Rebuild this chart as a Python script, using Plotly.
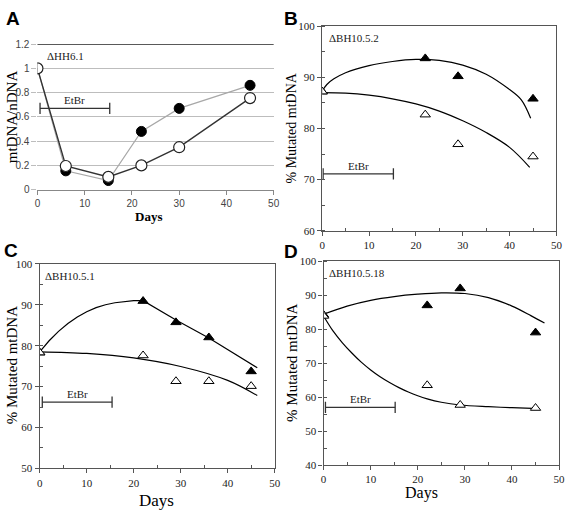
import plotly.graph_objects as go

W, H = 571, 518

# ---------------- data ----------------
# Panel A (mtDNA/nDNA)
a_days = [0, 6, 15, 22, 30, 45]
a_filled = [1.0, 0.155, 0.075, 0.48, 0.67, 0.86]
a_open = [1.0, 0.195, 0.105, 0.2, 0.35, 0.755]
a_yticks = [0, 0.2, 0.4, 0.6, 0.8, 1, 1.2]
a_yticklabels = ["0", "0.2", "0.4", "0.6", "0.8", "1", "1.2"]

# Panel B (% mutated)
b_days = [0, 22, 29, 45]
b_filled = [87.2, 93.7, 90.2, 85.8]
b_open = [87.2, 82.7, 76.9, 74.5]
b_fit_x = [0, 1, 2.5, 5, 10, 15, 20, 25, 30, 35, 40, 42.5, 44.5]
b_fit_up = [87.3, 88.6, 89.7, 90.9, 92.3, 93.1, 93.5, 93.3, 92.4, 90.6, 87.6, 85.6, 82.0]
b_fit_lo_x = [0, 5, 10, 15, 20, 25, 30, 35, 40, 44.3]
b_fit_lo = [87.0, 86.9, 86.5, 85.8, 84.8, 83.4, 81.5, 79.2, 76.3, 72.4]

# Panel C
c_days = [0, 22, 29, 36, 45]
c_filled = [78.3, 90.9, 85.7, 82.0, 73.7]
c_open = [78.3, 77.6, 71.3, 71.3, 70.1]
c_fit_up_x = [0, 2, 4, 6, 8, 10, 12, 14, 16, 18, 20, 22, 29, 36, 46.3]
c_fit_up = [78.5, 81.2, 83.5, 85.4, 87.0, 88.3, 89.3, 90.0, 90.5, 90.8, 91.0, 91.0, 86.3, 81.9, 74.6]
c_fit_lo_x = [0, 10, 20, 30, 40, 46.3]
c_fit_lo = [78.5, 78.1, 77.0, 74.9, 71.5, 67.8]

# Panel D
d_days = [0, 22, 29, 45]
d_filled = [84.2, 87.0, 92.0, 79.0]
d_open = [83.9, 63.5, 57.7, 56.8]
d_fit_up_x = [0, 5, 10, 15, 20, 25, 30, 35, 40, 44, 46.9]
d_fit_up = [84.4, 86.8, 88.5, 89.6, 90.3, 90.7, 90.5, 89.3, 86.8, 84.0, 81.8]
d_fit_lo_x = [0, 2, 4, 6, 8, 10, 12, 14, 16, 18, 20, 22, 25, 29, 35, 40, 45.8]
d_fit_lo = [83.9, 79.5, 76.0, 73.0, 70.3, 68.0, 66.0, 64.3, 62.8, 61.5, 60.4, 59.5, 58.5, 57.7, 57.2, 56.9, 56.6]

# EtBr treatment bars (start, end day) and height per panel
etbr_days = {"A": [0.55, 15.3], "B": [0.2, 15.2], "C": [0.55, 15.4], "D": [0.4, 15.2]}
etbr_y = {"A": 0.67, "B": 71.1, "C": 66.2, "D": 57.0}

cell_lines = {"A": "ΔHH6.1", "B": "ΔBH10.5.2", "C": "ΔBH10.5.1", "D": "ΔBH10.5.18"}
x_ticks = [0, 10, 20, 30, 40, 50]

# ---------------- layout helpers ----------------
def dom_x(p0, p1):
    return [p0 / W, p1 / W]

def dom_y(ptop, pbot):
    return [1 - pbot / H, 1 - ptop / H]

SERIF = "Liberation Serif"
SANS = "Liberation Sans"

fig = go.Figure()

# ---------------- Panel A ----------------
fig.add_trace(go.Scatter(x=a_days, y=a_filled, mode="lines+markers", xaxis="x", yaxis="y",
                         line=dict(color="#a8a8a8", width=1.2),
                         marker=dict(symbol="circle", size=10, color="black", line=dict(color="black", width=1))))
fig.add_trace(go.Scatter(x=a_days, y=a_open, mode="lines+markers", xaxis="x", yaxis="y",
                         line=dict(color="#333333", width=1.4),
                         marker=dict(symbol="circle", size=11, color="white", line=dict(color="#222222", width=1.2))))

# ---------------- Panels B, C, D ----------------
def add_pct_panel(xa, ya, days, filled, open_, up_x, up_y, lo_x, lo_y, spline=True):
    shape = "spline" if spline else "linear"
    fig.add_trace(go.Scatter(x=up_x, y=up_y, mode="lines", xaxis=xa, yaxis=ya,
                             line=dict(color="black", width=1.2, shape=shape)))
    fig.add_trace(go.Scatter(x=lo_x, y=lo_y, mode="lines", xaxis=xa, yaxis=ya,
                             line=dict(color="black", width=1.2, shape="spline")))
    fig.add_trace(go.Scatter(x=days, y=filled, mode="markers", xaxis=xa, yaxis=ya,
                             marker=dict(symbol="triangle-up", size=9, color="black",
                                         line=dict(color="black", width=1))))
    fig.add_trace(go.Scatter(x=days, y=open_, mode="markers", xaxis=xa, yaxis=ya,
                             marker=dict(symbol="triangle-up", size=9, color="white",
                                         line=dict(color="black", width=1))))

add_pct_panel("x2", "y2", b_days, b_filled, b_open, b_fit_x, b_fit_up, b_fit_lo_x, b_fit_lo)
add_pct_panel("x3", "y3", c_days, c_filled, c_open, c_fit_up_x, c_fit_up, c_fit_lo_x, c_fit_lo, spline=False)
add_pct_panel("x4", "y4", d_days, d_filled, d_open, d_fit_up_x, d_fit_up, d_fit_lo_x, d_fit_lo)

# EtBr bars
ax_for = {"A": ("x", "y"), "B": ("x2", "y2"), "C": ("x3", "y3"), "D": ("x4", "y4")}
for k, (xa, ya) in ax_for.items():
    xs = etbr_days[k]
    fig.add_trace(go.Scatter(x=xs, y=[etbr_y[k]] * 2, mode="lines+markers", xaxis=xa, yaxis=ya,
                             line=dict(color="#333333", width=1.3),
                             marker=dict(symbol="line-ns", size=8, line=dict(color="#333333", width=1.3))))

annotations = []
for k, (xa, ya) in ax_for.items():
    xs = etbr_days[k]
    annotations.append(dict(x=(xs[0] + xs[1]) / 2, y=etbr_y[k], xref=xa, yref=ya, text="EtBr",
                            showarrow=False, yanchor="bottom", yshift=0,
                            font=dict(family=SERIF, size=11, color="#222")))
label_pos = {"A": (1.5, 1.1), "B": (1.0, 97.6), "C": (0.8, 97.0), "D": (0.8, 96.5)}
for k, (xa, ya) in ax_for.items():
    lx, ly = label_pos[k]
    annotations.append(dict(x=lx, y=ly, xref=xa, yref=ya, text=cell_lines[k], showarrow=False,
                            xanchor="left", yanchor="middle",
                            font=dict(family=SERIF, size=11, color="#222")))

# panel letters
for letter, (px_, py_) in {"A": (2, 13), "B": (284, 13), "C": (0, 250), "D": (284, 251)}.items():
    annotations.append(dict(x=px_ / W, y=1 - py_ / H, xref="paper", yref="paper", text=f"<b>{letter}</b>",
                            showarrow=False, xanchor="left", yanchor="middle", borderpad=0,
                            font=dict(family=SANS, size=19, color="black")))

# axis titles
def title(xp, yp, text, size, angle=0, bold=False):
    t = f"<b>{text}</b>" if bold else text
    annotations.append(dict(x=xp / W, y=1 - yp / H, xref="paper", yref="paper", text=t, showarrow=False,
                            textangle=angle, xanchor="center", yanchor="middle", borderpad=0,
                            font=dict(family=SERIF, size=size, color="black")))

title(10, 113, "mtDNA/nDNA", 15, angle=-90)
title(148, 216, "Days", 13, bold=True)
title(293, 125, "% Mutated mtDNA", 14, angle=-90)
title(10, 368, "% Mutated mtDNA", 15, angle=-90)
title(156, 506, "Days", 17)
title(293, 365, "% Mutated mtDNA", 15, angle=-90)
title(425, 499, "Days", 16)

fig.update_layout(annotations=annotations)

# Top dark line on panel A
fig.add_shape(type="line", xref="x domain", yref="y", x0=0, x1=1, y0=1.2, y1=1.2,
              line=dict(color="#222222", width=1.5))

# ---------------- axes ----------------
tick_font_sans = dict(family=SANS, size=10, color="#444")
tick_font_serif = dict(family=SERIF, size=11, color="#222")

fig.update_layout(
    width=W, height=H, margin=dict(l=0, r=0, t=0, b=0),
    paper_bgcolor="white", plot_bgcolor="white", showlegend=False,
    xaxis=dict(domain=dom_x(35, 275), anchor="y", range=[0, 50], tickvals=x_ticks,
               showgrid=False, zeroline=False, showline=True, linecolor="#888", linewidth=1,
               ticks="outside", ticklen=4, tickcolor="#888", tickfont=tick_font_sans),
    yaxis=dict(domain=dom_y(39, 188), anchor="x", range=[0, 1.2], tickvals=a_yticks,
               ticktext=a_yticklabels, showgrid=True, gridcolor="#bdbdbd", gridwidth=1,
               zeroline=False, showline=False, ticks="outside", ticklen=5, tickcolor="#bdbdbd",
               tickfont=tick_font_sans),
)

def pct_axes(xname, yname, xdom, ydom, yrange, ydtick):
    fig.update_layout({
        xname: dict(domain=xdom, anchor=yname.replace("axis", ""), range=[0, 50], tickvals=x_ticks,
                    showgrid=False, zeroline=False, showline=True, mirror=True,
                    linecolor="#555", linewidth=1.3, ticks="outside", ticklen=4, tickcolor="#555",
                    tickfont=tick_font_serif,
                    minor=dict(tickvals=[5, 15, 25, 35, 45], ticks="inside", ticklen=3, tickcolor="#555")),
        yname: dict(domain=ydom, anchor=xname.replace("axis", ""), range=yrange, dtick=ydtick,
                    showgrid=False, zeroline=False, showline=True, mirror=True,
                    linecolor="#555", linewidth=1.3, ticks="outside", ticklen=4, tickcolor="#555",
                    tickfont=tick_font_serif,
                    minor=dict(dtick=ydtick / 2, ticks="inside", ticklen=3, tickcolor="#555")),
    })

pct_axes("xaxis2", "yaxis2", dom_x(324.3, 562.3), dom_y(20.7, 230), [60, 100], 10)
pct_axes("xaxis3", "yaxis3", dom_x(37.3, 276), dom_y(264, 473.3), [50, 100], 10)
pct_axes("xaxis4", "yaxis4", dom_x(325.7, 565), dom_y(261.3, 470), [40, 100], 10)

fig.write_html("out.html", config={"displayModeBar": False},
               post_script="document.documentElement.style.overflow='hidden';document.body.style.margin='0';document.body.style.overflow='hidden';")
